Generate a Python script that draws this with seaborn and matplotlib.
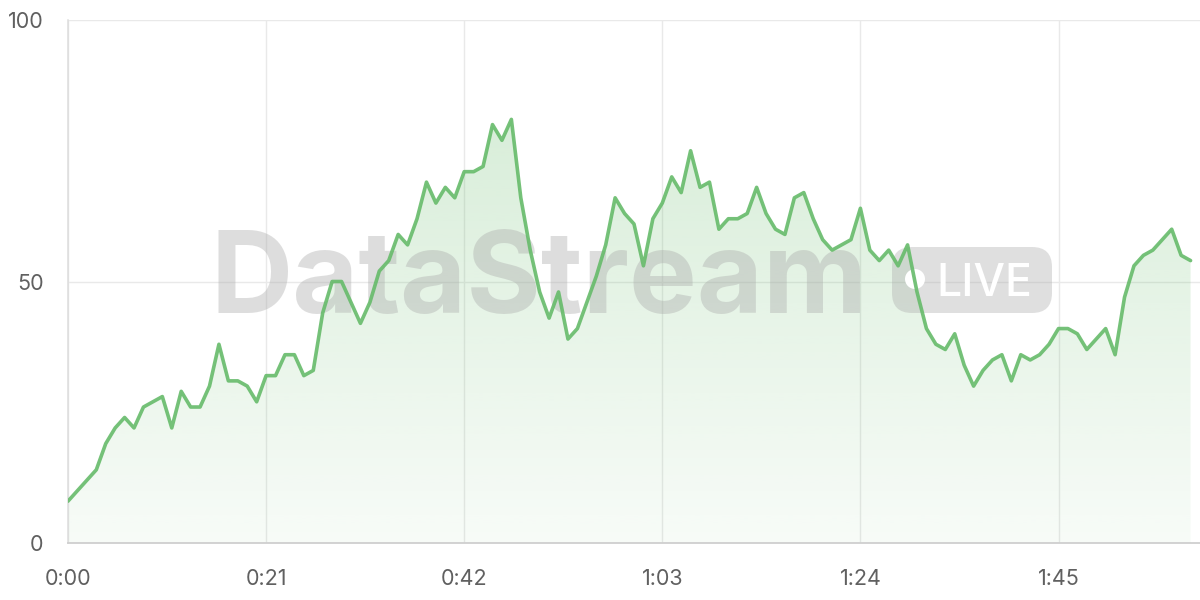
import numpy as np
import pandas as pd
import matplotlib
matplotlib.use("Agg")
import matplotlib.pyplot as plt
import seaborn as sns
from matplotlib.patches import FancyBboxPatch, Circle
from matplotlib.ticker import FuncFormatter, FixedLocator

# ---- data ----
seconds = list(range(120))
values = [8, 10, 12, 14, 19, 22, 24, 22, 26, 27,
          28, 22, 29, 26, 26, 30, 38, 31, 31, 30,
          27, 32, 32, 36, 36, 32, 33, 44, 50, 50,
          46, 42, 46, 52, 54, 59, 57, 62, 69, 65,
          68, 66, 71, 71, 72, 80, 77, 81, 66, 56,
          48, 43, 48, 39, 41, 46, 51, 57, 66, 63,
          61, 53, 62, 65, 70, 67, 75, 68, 69, 60,
          62, 62, 63, 68, 63, 60, 59, 66, 67, 62,
          58, 56, 57, 58, 64, 56, 54, 56, 53, 57,
          48, 41, 38, 37, 40, 34, 30, 33, 35, 36,
          31, 36, 35, 36, 38, 41, 41, 40, 37, 39,
          41, 36, 47, 53, 55, 56, 58, 60, 55, 54]
x_ticks = [0, 21, 42, 63, 84, 105]
y_ticks = [0, 50, 100]
watermark = "DataStream"
badge = "LIVE"

df = pd.DataFrame({"t": seconds, "v": values})

sns.set_theme(style="white")
plt.rcParams["font.family"] = ["Inter", "DejaVu Sans"]

GREEN = "#66BB6A"
GRID = "#e9e9e9"
TXT = "#606060"

fig = plt.figure(figsize=(12, 6), dpi=100)
ax = fig.add_axes([68 / 1200, 57 / 600, (1200 - 68) / 1200, (543 - 20) / 600])

# gradient fill under the line
poly = ax.fill_between(df["t"], df["v"], 0, color="none", lw=0)
n = 256
grad = np.zeros((n, 1, 4))
rgb = matplotlib.colors.to_rgb(GREEN)
grad[:, 0, 0] = rgb[0]
grad[:, 0, 1] = rgb[1]
grad[:, 0, 2] = rgb[2]
grad[:, 0, 3] = np.linspace(0.05, 0.30, n)
img = ax.imshow(grad, extent=[0, 120, 0, 100], origin="lower", aspect="auto", zorder=1,
                interpolation="bilinear")
path = poly.get_paths()[0]
img.set_clip_path(path, transform=ax.transData)

# line
sns.lineplot(data=df, x="t", y="v", ax=ax, color=GREEN, linewidth=2.6, alpha=0.9, zorder=4)

ax.set_xlim(0, 120)
ax.set_ylim(0, 100)
ax.set_xlabel("")
ax.set_ylabel("")

ax.xaxis.set_major_locator(FixedLocator(x_ticks))
ax.yaxis.set_major_locator(FixedLocator(y_ticks))
ax.xaxis.set_major_formatter(FuncFormatter(lambda v, p: f"{int(v) // 60}:{int(v) % 60:02d}"))
ax.yaxis.set_major_formatter(FuncFormatter(lambda v, p: f"{int(v)}"))

ax.grid(True, color=GRID, linewidth=1.0, zorder=0)
ax.set_axisbelow(True)
for s in ["top", "right"]:
    ax.spines[s].set_visible(False)
ax.spines["left"].set_color("#dcdcdc")
ax.spines["left"].set_linewidth(1.1)
ax.spines["bottom"].set_color("#cfcfcf")
ax.spines["bottom"].set_linewidth(1.3)
ax.tick_params(axis="x", length=11, width=1.0, color=GRID, pad=8, labelsize=15.5, labelcolor=TXT)
ax.tick_params(axis="y", length=11.5, width=1.0, color=GRID, pad=6, labelsize=15.5, labelcolor=TXT)
ax.set_facecolor("white")

# watermark in pixel-like (inch) coordinates
T = fig.dpi_scale_trans
def P(x, y):
    return (x / 100.0, (600 - y) / 100.0)

ax.text(*P(210, 313), watermark, transform=T, fontsize=82, fontweight="bold",
        color="#a8a8a8", alpha=0.38, ha="left", va="baseline", zorder=3, clip_on=False)

bx, by = P(892, 313)
box = FancyBboxPatch((bx, by), 1.60, 0.66, boxstyle="round,pad=0,rounding_size=0.2",
                     transform=T, facecolor="#a8a8a8", edgecolor="none", alpha=0.36,
                     zorder=3, clip_on=False)
ax.add_patch(box)
ax.add_patch(Circle(P(915, 279), 0.10, transform=T, facecolor="white", edgecolor="none",
                    zorder=3.1, clip_on=False))
ax.text(*P(936, 296), badge, transform=T, fontsize=32, fontweight="medium",
        color="white", ha="left", va="baseline", zorder=3.1, clip_on=False)

fig.savefig("out.png", dpi=100, facecolor="white")
